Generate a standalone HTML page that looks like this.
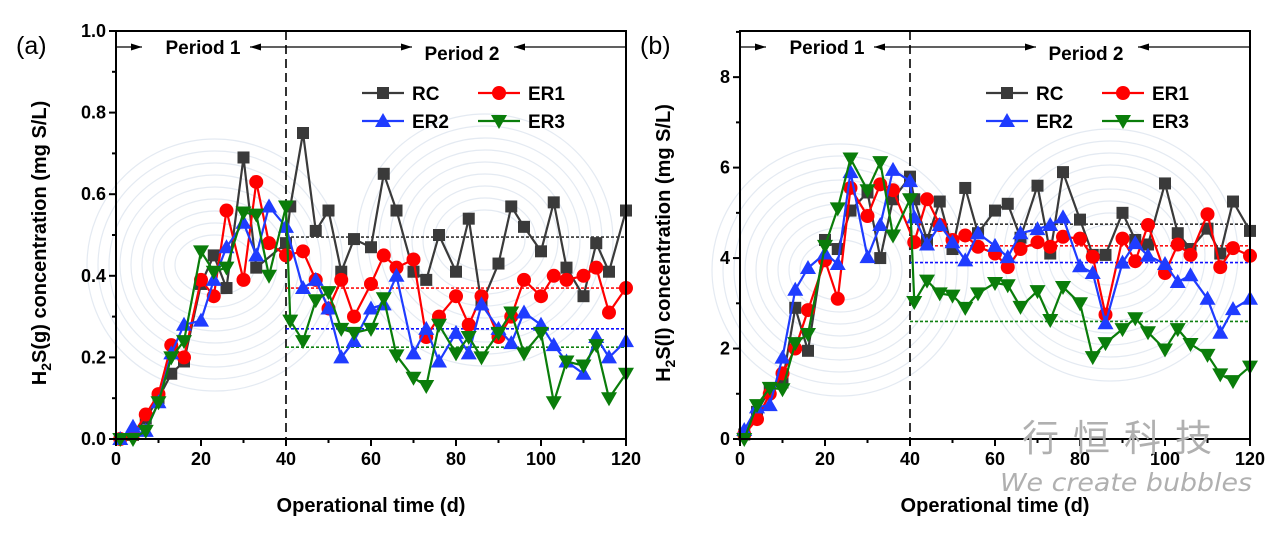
<!DOCTYPE html>
<html><head><meta charset="utf-8"><style>
html,body{margin:0;padding:0;background:#fff;}
svg{display:block;font-family:"Liberation Sans",Arial,sans-serif;}
</style></head><body>
<svg id="chart" width="1282" height="535" viewBox="0 0 1282 535" xmlns="http://www.w3.org/2000/svg">
<g id="bg"></g>
<g id="pa"></g>
<g id="pb"></g>
<text x="1022" y="451" font-size="37" fill="#b0b0b0" letter-spacing="14" font-family="'Noto Sans CJK SC',sans-serif">行恒科技</text>
<text x="1000" y="491" font-size="25" fill="#b0b0b0" font-style="italic" font-family="'DejaVu Sans',sans-serif" textLength="252" lengthAdjust="spacingAndGlyphs">We create bubbles</text>
</svg>
<script>
const days = [1,4,7,10,13,16,20,23,26,30,33,36,40,41,44,47,50,53,56,60,63,66,70,73,76,80,83,86,90,93,96,100,103,106,110,113,116,120];
const aRC  = [0,0.01,0.05,0.1,0.16,0.19,0.38,0.45,0.37,0.69,0.42,null,0.48,0.57,0.75,0.51,0.56,0.41,0.49,0.47,0.65,0.56,0.41,0.39,0.50,0.41,0.54,0.33,0.43,0.57,0.52,0.46,0.58,0.42,0.35,0.48,0.41,0.56];
const aER1 = [0,0.01,0.06,0.11,0.23,0.2,0.39,0.35,0.56,0.39,0.63,0.48,0.45,null,0.46,0.39,0.32,0.39,0.30,0.38,0.45,0.42,0.44,0.25,0.30,0.35,0.28,0.35,0.25,0.30,0.39,0.35,0.40,0.39,0.40,0.42,0.31,0.37];
const aER2 = [0,0.03,0.02,0.09,0.21,0.28,0.29,0.39,0.47,0.53,0.45,0.57,0.52,null,0.37,0.39,0.32,0.20,0.24,0.32,0.33,0.40,0.21,0.27,0.19,0.26,0.21,0.33,0.27,0.235,0.31,0.28,0.23,0.19,0.16,0.25,0.20,0.24];
const aER3 = [0,0,0.02,0.09,0.2,0.24,0.46,0.41,0.42,0.555,0.55,0.40,0.57,0.29,0.24,0.34,0.36,0.27,0.26,0.27,0.345,0.205,0.15,0.13,0.28,0.21,0.25,0.2,0.26,0.31,0.21,0.26,0.09,0.19,0.18,0.23,0.10,0.16];
const aAvg = [0.495,0.37,0.27,0.225];
const bRC  = [0.1,0.6,1.1,1.25,2.9,1.95,4.4,4.2,5.05,5.45,4.0,5.3,5.8,5.3,4.4,5.25,4.2,5.55,4.55,5.05,5.2,4.45,5.6,4.1,5.9,4.85,4.07,4.07,5.0,4.4,4.3,5.65,4.55,4.2,4.65,4.1,5.25,4.6];
const bER1 = [0.1,0.44,1.0,1.45,2.0,2.85,3.95,3.1,5.55,4.93,5.63,5.5,null,4.35,5.3,4.73,4.4,4.5,4.25,4.1,3.8,4.2,4.35,4.25,4.47,4.43,4.03,2.75,4.43,3.93,4.73,3.67,4.3,4.07,4.97,3.8,4.22,4.05];
const bER2 = [0.2,0.7,0.75,1.8,3.3,3.78,4.1,3.87,5.9,4.02,4.73,5.95,5.7,4.9,4.3,4.73,4.35,3.95,4.55,4.27,4.02,4.55,4.64,4.73,4.9,3.82,3.67,2.56,3.9,4.33,4.05,3.87,3.47,3.62,3.1,2.35,2.87,3.1];
const bER3 = [0,0.75,1.13,1.1,2.12,2.32,4.27,5.1,6.2,5.5,6.12,4.5,5.3,3.03,3.5,3.22,3.17,2.9,3.22,3.45,3.4,2.92,3.27,2.63,3.36,3.0,1.81,2.12,2.43,2.67,2.36,1.98,2.43,2.1,1.86,1.43,1.28,1.6];
const bAvg = [4.75,4.27,3.9,2.6];
const xTicks = [0,20,40,60,80,100,120];
const aYTicks = ["0.0","0.2","0.4","0.6","0.8","1.0"];
const bYTicks = ["0","2","4","6","8"];
const seriesNames = ["RC","ER1","ER2","ER3"];
const colors = ["#3a3a3a","#ff0000","#1f3cff","#0a7d0a"];
const avgColors = ["#333","#ff1010","#1010ff","#108010"];

const NS="http://www.w3.org/2000/svg";
function mk(tag,attrs,parent){const e=document.createElementNS(NS,tag);for(const k in attrs)e.setAttribute(k,attrs[k]);parent.appendChild(e);return e;}

const bg=document.getElementById('bg');
[[215,265],[485,240],[840,270],[1110,255]].forEach(c=>{
  for(let i=0;i<9;i++){
    const el=mk('ellipse',{cx:c[0],cy:c[1],rx:40+i*11,ry:30+i*12,fill:'none',stroke:'#c9d6e6','stroke-width':1.2,opacity:0.5},bg);
    
    
  }
});

function marker(g,type,x,y,col){
  let el;
  if(type===0) el=mk('rect',{x:x-6,y:y-6,width:12,height:12,fill:col},g);
  else if(type===1) el=mk('circle',{cx:x,cy:y,r:7,fill:col},g);
  else if(type===2) el=mk('path',{d:`M${x},${y-8}L${x+8},${y+6}L${x-8},${y+6}Z`,fill:col},g);
  else el=mk('path',{d:`M${x},${y+8}L${x+8},${y-6}L${x-8},${y-6}Z`,fill:col},g);
  return el;
}

function panel(gid,L,R,T,B,ymax,yTicks,series,avgs,ylab,tag){
  const g=document.getElementById(gid);
  const X=d=>L+(R-L)*d/120, Y=v=>B-(B-T)*v/ymax;
  const ay=47;
  [[L,L+26],[L+134,L+296],[L+398,R]].forEach(s=>{
    const ln=mk('line',{x1:s[0],y1:ay,x2:s[1],y2:ay,stroke:'#000','stroke-width':1.3},g);
    
    
  });
  const arr=(x,dir)=>{const a=mk('path',{d:`M${x},${ay}L${x-dir*11},${ay-3.5}L${x-dir*11},${ay+3.5}Z`,fill:'#000'},g);
    
    };
  arr(L+26,1);arr(L+134,-1);arr(L+296,1);arr(L+398,-1);
  let t=mk('text',{x:L+87,y:ay+7,'font-size':19,'font-weight':'bold','text-anchor':'middle'},g);t.textContent='Period 1';
  
  t=mk('text',{x:L+346,y:ay+13,'font-size':19,'font-weight':'bold','text-anchor':'middle'},g);t.textContent='Period 2';
  
  let dv=mk('line',{x1:X(40),y1:T,x2:X(40),y2:B,stroke:'#000','stroke-width':1.6,'stroke-dasharray':'9,5'},g);
  
  avgs.forEach((v,i)=>{const a=mk('line',{x1:X(40),y1:Y(v),x2:R,y2:Y(v),stroke:avgColors[i],'stroke-width':1.6,'stroke-dasharray':'3,2'},g);
    });
  series.forEach((vals,si)=>{
    const sg=mk('g',{},g);
    
    
    let pts=[];vals.forEach((v,i)=>{if(v!==null)pts.push(X(days[i]).toFixed(1)+','+Y(v).toFixed(1));});
    const pl=mk('polyline',{points:pts.join(' '),fill:'none',stroke:colors[si],'stroke-width':2.2,'stroke-linejoin':'round'},sg);
    
    
    vals.forEach((v,i)=>{if(v===null)return;const m=marker(sg,si,X(days[i]),Y(v),colors[si]);
      
      });
  });
  const fr=mk('rect',{x:L,y:T,width:R-L,height:B-T,fill:'none',stroke:'#000','stroke-width':2},g);
  
  xTicks.forEach(v=>{mk('line',{x1:X(v),y1:B,x2:X(v),y2:B+7,stroke:'#000','stroke-width':2},g);
    if(v<120) mk('line',{x1:X(v+10),y1:B,x2:X(v+10),y2:B+4,stroke:'#000','stroke-width':2},g);
    const tl=mk('text',{x:X(v),y:B+26,'font-size':18,'font-weight':'bold','text-anchor':'middle'},g);tl.textContent=v;
    });
  const step=ymax===1?0.2:2;
  yTicks.forEach((lab,i)=>{const v=i*step;mk('line',{x1:L-7,y1:Y(v),x2:L,y2:Y(v),stroke:'#000','stroke-width':2},g);
    if(v+step/2<=ymax) mk('line',{x1:L-4,y1:Y(v+step/2),x2:L,y2:Y(v+step/2),stroke:'#000','stroke-width':2},g);
    const tl=mk('text',{x:L-10,y:Y(v)+6,'font-size':18,'font-weight':'bold','text-anchor':'end'},g);tl.textContent=lab;
    });
  t=mk('text',{x:(L+R)/2,y:512,'font-size':20,'font-weight':'bold','text-anchor':'middle'},g);t.textContent='Operational time (d)';
  
  const yl=L-70;
  t=mk('text',{x:yl,y:(T+B)/2+8,'font-size':20,'font-weight':'bold','text-anchor':'middle',transform:`rotate(-90 ${yl} ${(T+B)/2+8})`},g);
  t.innerHTML='H<tspan font-size="14" dy="5">2</tspan><tspan dy="-5">'+ylab+'</tspan>';
  
  t=mk('text',{x:L-100,y:54,'font-size':25},g);t.textContent=tag;
  
  const lx=L+246, rows=[93,121];
  seriesNames.forEach((n,i)=>{
    const x0=lx+(i%2)*116, y0=rows[Math.floor(i/2)];
    const lg=mk('g',{},g);
    
    
    mk('line',{x1:x0,y1:y0,x2:x0+42,y2:y0,stroke:colors[i],'stroke-width':2.2},lg);
    marker(lg,i,x0+21,y0,colors[i]);
    const tx=mk('text',{x:x0+50,y:y0+7,'font-size':19,'font-weight':'bold'},lg);tx.textContent=n;
  });
}
panel('pa',116,626,31,439,1.0,aYTicks,[aRC,aER1,aER2,aER3],aAvg,'S(g) concentration (mg S/L)','(a)');
panel('pb',740,1250,31,439,9.02,bYTicks,[bRC,bER1,bER2,bER3],bAvg,'S(l) concentration (mg S/L)','(b)');
</script>
</body></html>
